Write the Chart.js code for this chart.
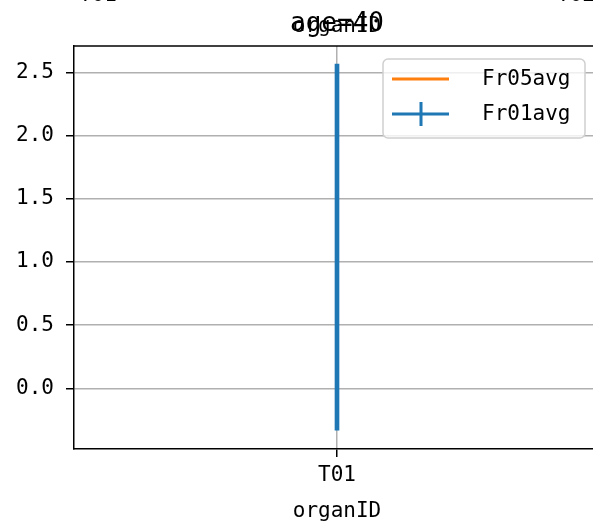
<!DOCTYPE html>
<html>
<head>
<meta charset="utf-8">
<script src="https://cdn.jsdelivr.net/npm/chart.js@4"></script>
<style>
  html, body { margin: 0; padding: 0; overflow: hidden; background: #fff; }
  #wrap { width: 600px; height: 524px; }
</style>
</head>
<body>
<div id="wrap"><canvas id="myChart" width="600" height="524"></canvas></div>
<script>
// data
const categories = ['T01'];
const fr01Low = [-0.33];
const fr01High = [2.566];
const fr05Avg = [1.12];
const yTickValues = [0, 0.5, 1, 1.5, 2, 2.5];
const yTickLabels = ['0.0', '0.5', '1.0', '1.5', '2.0', '2.5'];
const topTickLabels = ['T01', 'T02'];
const titleText = 'age=40';
const axisName = 'organID';

const FONT = "'DejaVu Sans Mono', monospace";

(() => {
  const ctx = document.getElementById('myChart');

  // matplotlib-ish extras: top spine, title, legend, cut-off top ticks
  const extras = {
    id: 'extras',
    afterDraw(chart) {
      const c = chart.ctx;
      const a = chart.chartArea;
      c.save();
      c.strokeStyle = '#000';
      c.lineWidth = 1.5;
      c.beginPath();
      c.moveTo(a.left, a.top);
      c.lineTo(a.right, a.top);
      c.stroke();

      c.fillStyle = '#000';
      c.textAlign = 'center';
      c.textBaseline = 'alphabetic';
      const cx = chart.scales.x.getPixelForValue(0);
      c.font = '21px ' + FONT;
      c.fillText(axisName, cx, 32);
      c.font = '26px ' + FONT;
      c.fillText(titleText, cx, 31);

      // top tick labels, mostly outside the page
      c.font = '21px ' + FONT;
      c.fillText(topTickLabels[0], 98, 1);
      c.fillText(topTickLabels[1], 576, 1);

      // legend
      const lx = 383, ly = 59, lw = 202, lh = 79;
      c.fillStyle = 'rgba(255,255,255,0.8)';
      c.strokeStyle = '#d0d0d0';
      c.lineWidth = 1.5;
      c.beginPath();
      c.roundRect(lx, ly, lw, lh, 5);
      c.fill();
      c.stroke();

      const ds = chart.data.datasets;
      const rows = [
        { d: ds[0], y: 79, color: ds[0].borderColor, err: false },
        { d: ds[1], y: 114, color: ds[1].backgroundColor, err: true }
      ];
      rows.forEach(r => {
        c.strokeStyle = r.color;
        c.lineWidth = 3;
        c.beginPath();
        c.moveTo(392, r.y);
        c.lineTo(449, r.y);
        if (r.err) {
          c.moveTo(421, r.y - 12);
          c.lineTo(421, r.y + 12);
        }
        c.stroke();
        c.fillStyle = '#000';
        c.textAlign = 'left';
        c.textBaseline = 'middle';
        c.font = '21px ' + FONT;
        c.fillText(r.d.label, 482, r.y + 1);
      });
      c.restore();
    }
  };

  const config = {
    data: {
      labels: categories,
      datasets: [
        {
          type: 'line',
          label: 'Fr05avg',
          data: fr05Avg,
          borderColor: '#ff7f0e',
          backgroundColor: '#ff7f0e',
          borderWidth: 3,
          pointRadius: 0
        },
        {
          type: 'bar',
          label: 'Fr01avg',
          data: categories.map((c, i) => [fr01Low[i], fr01High[i]]),
          backgroundColor: '#1f77b4',
          borderWidth: 0,
          barThickness: 4,
          borderSkipped: false
        }
      ]
    },
    options: {
      responsive: false,
      animation: false,
      devicePixelRatio: 1,
      layout: { padding: { top: 46, right: 0, left: 0, bottom: 0 } },
      plugins: {
        legend: { display: false },
        tooltip: { enabled: false }
      },
      scales: {
        x: {
          type: 'category',
          offset: true,
          afterFit: s => { s.height = 75; },
          grid: {
            display: true,
            offset: false,
            color: '#b0b0b0',
            lineWidth: 1.5,
            tickColor: '#000',
            tickLength: 8
          },
          border: { color: '#000', width: 1.5 },
          ticks: {
            color: '#000',
            font: { family: FONT, size: 21 },
            padding: 6
          },
          title: {
            display: true,
            text: axisName,
            color: '#000',
            font: { family: FONT, size: 21 },
            padding: { top: 2, bottom: 0 }
          }
        },
        y: {
          min: -0.48,
          max: 2.71,
          afterFit: s => { s.width = 74; },
          afterBuildTicks: s => { s.ticks = yTickValues.map(v => ({ value: v })); },
          grid: {
            color: '#b0b0b0',
            lineWidth: 1.5,
            tickColor: '#000',
            tickLength: 8
          },
          border: { color: '#000', width: 1.5 },
          ticks: {
            color: '#000',
            font: { family: FONT, size: 21 },
            padding: 12,
            callback: (v, i) => yTickLabels[i]
          }
        }
      }
    },
    plugins: [extras]
  };

  new Chart(ctx, config);
})();
</script>
</body>
</html>
